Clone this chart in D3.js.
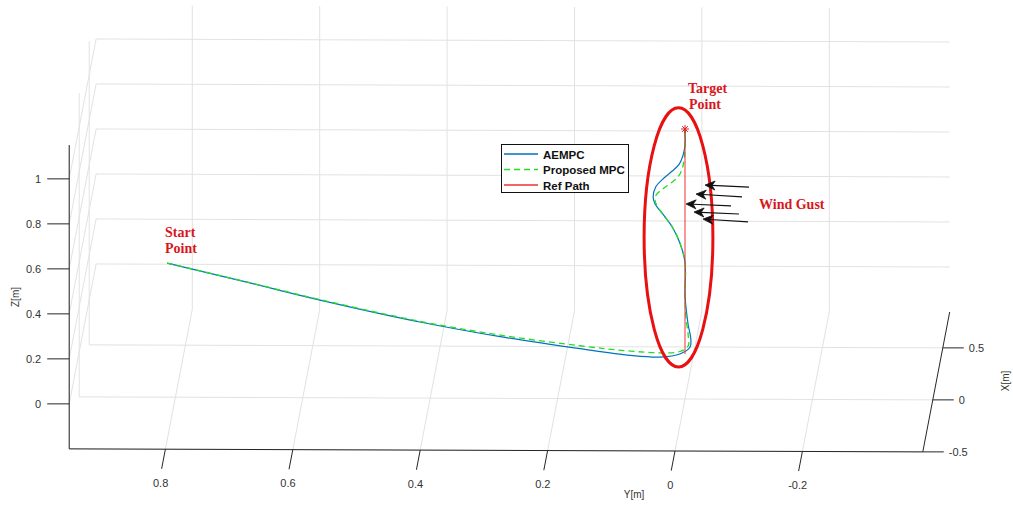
<!DOCTYPE html>
<html><head><meta charset="utf-8">
<script src="https://cdn.jsdelivr.net/npm/d3@7"></script>
<style>body{margin:0;background:#fff}svg{display:block}</style>
</head><body><svg id="c" width="1013" height="505"></svg>
<script>
// ---------- data ----------
const yTicks = [0.8, 0.6, 0.4, 0.2, 0, -0.2];
const yTickLabels = ["0.8", "0.6", "0.4", "0.2", "0", "-0.2"];
const zTicks = [0, 0.2, 0.4, 0.6, 0.8, 1];
const zTickLabels = ["0", "0.2", "0.4", "0.6", "0.8", "1"];
const xTicks = [-0.5, 0, 0.5];
const xTickLabels = ["-0.5", "0", "0.5"];
const xLim = [-0.5, 0.845], yLim = [-0.389, 0.951], zLim = [-0.2, 1.15];

const pathX = 0; // trajectories lie in the x = 0 plane
const aempcY = [0.813,0.683,0.573,0.416,0.290,0.165,0.086,0.039,0.008,-0.008,-0.009,-0.005,-0.002,0,0,0.008,0.020,0.036,0.047,0.050,0.046,0.033,0.020,0.009,0.003,0,0];
const aempcZ = [0.396,0.309,0.234,0.138,0.074,0.022,-0.007,-0.014,0.0,0.031,0.071,0.129,0.196,0.262,0.409,0.493,0.564,0.626,0.666,0.697,0.742,0.782,0.813,0.844,0.884,0.929,1.0];
const mpcY = [0.813,0.683,0.573,0.416,0.290,0.165,0.086,0.039,0.008,-0.005,-0.005,-0.002,0,0,0.008,0.020,0.036,0.046,0.047,0.044,0.035,0.022,0.011,0.005,0.002,0,0];
const mpcZ = [0.396,0.310,0.236,0.141,0.081,0.035,0.012,0.005,0.011,0.036,0.084,0.151,0.240,0.409,0.493,0.564,0.626,0.671,0.693,0.711,0.733,0.760,0.787,0.818,0.853,0.907,1.0];
const refY = [0, 0];
const refZ = [0, 1];
const target = {y: 0, z: 1};
const seriesNames = ["AEMPC", "Proposed MPC", "Ref Path"];

// wind gust arrows (tail -> head) in data units
const gustTailY = [-0.1005,-0.0895,-0.0722,-0.0848,-0.0989];
const gustTailZ = [0.743,0.699,0.659,0.623,0.588];
const gustHeadY = [-0.0314,-0.0173,-0.0016,-0.0141,-0.0283];
const gustHeadZ = [0.751,0.711,0.667,0.631,0.600];

// ---------- projection via scales ----------
const ySX = d3.scaleLinear().domain([0, 1]).range([675, 38]);      // y -> screen x
const ySY = d3.scaleLinear().domain([0, 1]).range([451, 448.75]);  // y -> screen y (slight tilt)
const xD  = d3.scaleLinear().domain([-0.5, 0.5]).range([0, 1]);    // x -> depth units
const zS  = d3.scaleLinear().domain([-0.2, 0.8]).range([0, -225]); // z -> screen offset
const depthVec = [20, -104];
function P(x, y, z) {
  const d = xD(x);
  return [ySX(y) + depthVec[0] * d, ySY(y) + depthVec[1] * d + zS(z)];
}

const svg = d3.select("#c");
const gridC = "#e2e2e2", axisC = "#262626";
const grid = svg.append("g").attr("stroke", gridC).attr("stroke-width", 1).attr("fill", "none");
function seg(g, a, b) { g.append("line").attr("x1", a[0]).attr("y1", a[1]).attr("x2", b[0]).attr("y2", b[1]); }

// back wall (x = xmax)
zTicks.forEach(z => seg(grid, P(xLim[1], yLim[1], z), P(xLim[1], yLim[0], z)));
yTicks.forEach(y => seg(grid, P(xLim[1], y, zLim[0]), P(xLim[1], y, zLim[1])));
// left wall (y = ymax)
zTicks.forEach(z => seg(grid, P(xLim[0], yLim[1], z), P(xLim[1], yLim[1], z)));
xTicks.forEach(x => seg(grid, P(x, yLim[1], zLim[0]), P(x, yLim[1], zLim[1])));
// floor (z = zmin)
xTicks.forEach(x => seg(grid, P(x, yLim[1], zLim[0]), P(x, yLim[0], zLim[0])));
yTicks.forEach(y => seg(grid, P(xLim[0], y, zLim[0]), P(xLim[1], y, zLim[0])));

// axes
const ax = svg.append("g").attr("stroke", axisC).attr("stroke-width", 1);
seg(ax, P(xLim[0], yLim[1], zLim[0]), P(xLim[0], yLim[1], zLim[1]));  // z axis
seg(ax, P(xLim[0], yLim[1], zLim[0]), P(xLim[0], yLim[0], zLim[0]));  // y axis
seg(ax, P(xLim[0], yLim[0], zLim[0]), P(xLim[1], yLim[0], zLim[0]));  // x axis

const tickFont = "'Liberation Sans', Arial, sans-serif";
const lbl = svg.append("g").attr("font-family", tickFont).attr("font-size", "11px").attr("fill", "#333");
// z ticks
zTicks.forEach((z, i) => {
  const p = P(xLim[0], yLim[1], z);
  seg(ax, p, [p[0] - 22, p[1]]);
  lbl.append("text").attr("x", p[0] - 28).attr("y", p[1]).attr("text-anchor", "end")
     .attr("dominant-baseline", "central").text(zTickLabels[i]);
});
// y ticks
const dl = Math.hypot(depthVec[0], depthVec[1]);
const yTickDir = [-depthVec[0] / dl * 20, -depthVec[1] / dl * 20];
yTicks.forEach((y, i) => {
  const p = P(xLim[0], y, zLim[0]);
  const e = [p[0] + yTickDir[0], p[1] + yTickDir[1]];
  seg(ax, p, e);
  lbl.append("text").attr("x", e[0] - 1).attr("y", e[1] + 14).attr("text-anchor", "middle")
     .attr("dominant-baseline", "central").text(yTickLabels[i]);
});
// x ticks
xTicks.forEach((x, i) => {
  const p = P(x, yLim[0], zLim[0]);
  const e = [p[0] + 21, p[1]];
  seg(ax, p, e);
  lbl.append("text").attr("x", e[0] + 5).attr("y", e[1]).attr("text-anchor", "start")
     .attr("dominant-baseline", "central").text(xTickLabels[i]);
});
// axis labels
lbl.append("text").attr("x", 634).attr("y", 494).attr("text-anchor", "middle").attr("font-size", "10px")
   .attr("dominant-baseline", "central").text("Y[m]");
lbl.append("text").attr("transform", "translate(15,297) rotate(-90)").attr("text-anchor", "middle")
   .attr("font-size", "10px").attr("dominant-baseline", "central").text("Z[m]");
lbl.append("text").attr("transform", "translate(1005,381) rotate(-90)").attr("text-anchor", "middle")
   .attr("font-size", "10px").attr("dominant-baseline", "central").text("X[m]");

// ---------- series ----------
const line = d3.line().x(d => d[0]).y(d => d[1]).curve(d3.curveCatmullRom.alpha(0.5));
const pts = (Y, Z) => Y.map((y, i) => P(pathX, y, Z[i]));
svg.append("path").attr("d", line(pts(aempcY, aempcZ))).attr("fill", "none")
   .attr("stroke", "#0072BD").attr("stroke-width", 1.2);
svg.append("path").attr("d", line(pts(mpcY, mpcZ))).attr("fill", "none")
   .attr("stroke", "#22dd22").attr("stroke-width", 1.3).attr("stroke-dasharray", "6,4");
svg.append("path").attr("d", line(pts(refY, refZ))).attr("fill", "none")
   .attr("stroke", "#f03030").attr("stroke-width", 1);

// target marker
const tp = P(pathX, target.y, target.z);
const ast = svg.append("g").attr("stroke", "#e02020").attr("stroke-width", 1);
[[0,1],[1,0],[0.707,0.707],[0.707,-0.707]].forEach(v =>
  seg(ast, [tp[0] - 4 * v[0], tp[1] - 4 * v[1]], [tp[0] + 4 * v[0], tp[1] + 4 * v[1]]));

// ---------- annotations ----------
const annoRed = "#d9161c";
const ec = P(pathX, 0.0102, 0.518);
const erx = Math.abs(ySX(0.054) - ySX(0));
const ery = Math.abs(zS(0.576) - zS(0));
svg.append("ellipse").attr("cx", ec[0]).attr("cy", ec[1]).attr("rx", erx).attr("ry", ery)
   .attr("fill", "none").attr("stroke", "#e81010").attr("stroke-width", 3);

const ag = svg.append("g");
gustTailY.forEach((ty, i) => {
  const t = P(pathX, ty, gustTailZ[i]);
  const h = P(pathX, gustHeadY[i], gustHeadZ[i]);
  const ang = Math.atan2(h[1] - t[1], h[0] - t[0]);
  const L = 10, W = 4.5, B = 7;
  const c = Math.cos(ang), s = Math.sin(ang);
  const back = [h[0] - L * c, h[1] - L * s];
  const notch = [h[0] - B * c, h[1] - B * s];
  ag.append("line").attr("x1", t[0]).attr("y1", t[1]).attr("x2", notch[0]).attr("y2", notch[1])
    .attr("stroke", "#111").attr("stroke-width", 1.2);
  const pA = [back[0] - W * s, back[1] + W * c], pB = [back[0] + W * s, back[1] - W * c];
  ag.append("path").attr("d", `M${h[0]},${h[1]}L${pA[0]},${pA[1]}L${notch[0]},${notch[1]}L${pB[0]},${pB[1]}Z`)
    .attr("fill", "#111").attr("stroke", "#111").attr("stroke-width", 0.8);
});

const serif = "'Liberation Serif', 'Times New Roman', serif";
const an = svg.append("g").attr("font-family", serif).attr("font-weight", "bold")
  .attr("font-size", "14px").attr("fill", annoRed);
an.append("text").attr("x", 688).attr("y", 93).text("Target");
an.append("text").attr("x", 689).attr("y", 109).text("Point");
an.append("text").attr("x", 165).attr("y", 237).text("Start");
an.append("text").attr("x", 165).attr("y", 253).text("Point");
an.append("text").attr("x", 759).attr("y", 209).text("Wind Gust");

// ---------- legend ----------
const lg = svg.append("g");
lg.append("rect").attr("x", 501.5).attr("y", 144.5).attr("width", 127).attr("height", 48)
  .attr("fill", "#fff").attr("stroke", "#111").attr("stroke-width", 1);
const lgStroke = ["#0072BD", "#22dd22", "#f03030"];
const lgDash = ["none", "6,4", "none"];
seriesNames.forEach((n, i) => {
  const yy = 154 + i * 15.5;
  lg.append("line").attr("x1", 504).attr("x2", 538).attr("y1", yy).attr("y2", yy)
    .attr("stroke", lgStroke[i]).attr("stroke-width", 1.4).attr("stroke-dasharray", lgDash[i]);
  lg.append("text").attr("x", 543).attr("y", yy + 4.5).attr("font-family", tickFont)
    .attr("font-weight", "bold").attr("font-size", "11.5px").attr("fill", "#111").text(n);
});
</script></body></html>
